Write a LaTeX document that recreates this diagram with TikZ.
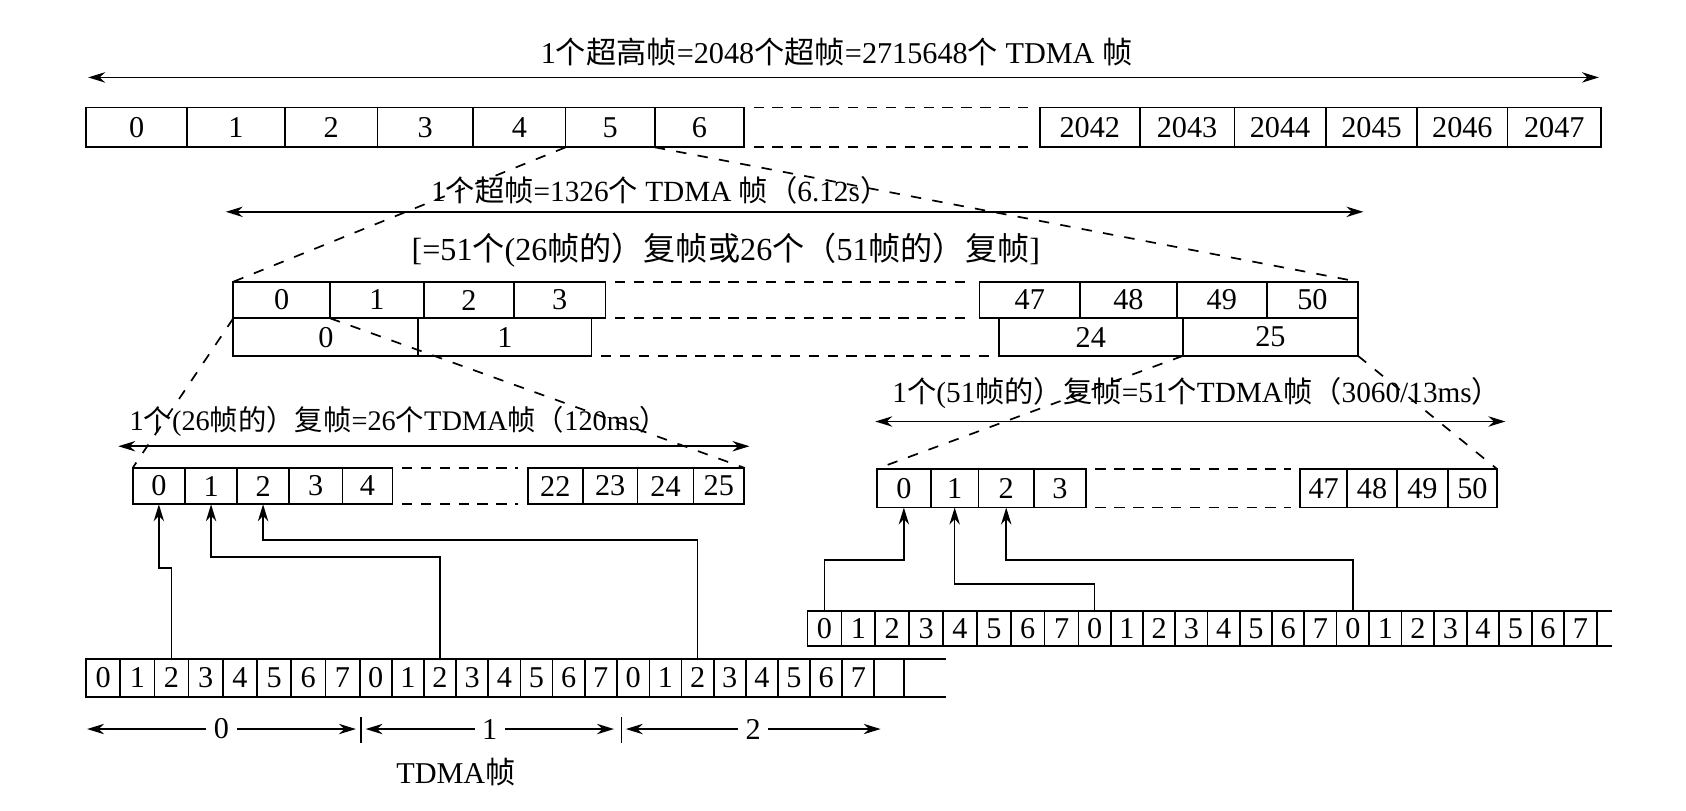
\documentclass[tikz,border=0pt]{standalone}
\usepackage{fontspec}
\setmainfont{Liberation Serif}
\newfontfamily\zhfont{Noto Sans CJK SC}
\newcommand{\zh}[1]{{\zhfont #1}}
\usetikzlibrary{arrows.meta}

\begin{document}
\begin{tikzpicture}[>={Stealth[length=9pt,width=5.5pt]}, x=0.02cm, y=-0.02cm, line width=0.9pt, font=\fontsize{16}{19}\selectfont]
	\tikzstyle{cell} = [draw, anchor=west, inner sep=0pt, outer sep=0pt]
	\tikzstyle{gap} = [dash pattern=on 5.5pt off 4.5pt, shorten <=5pt, shorten >=5pt]
	\tikzstyle{fan} = [dash pattern=on 5.5pt off 6pt]
	\tikzstyle{span} = [<->]
	\tikzstyle{link} = [->, line width=0.8pt]

	\useasboundingbox (0,0) rectangle (1568,754);

	% hyperframe
	\node (t1) at (778,48) {1\zh{个超高帧}=2048\zh{个超帧}=2715648\zh{个} TDMA \zh{帧}};
	\coordinate (a1l) at (82,72);
	\coordinate (a1r) at (1487,72);
	\draw[span] (a1l) -- (a1r);
	\foreach \n/\a/\b in {0/80/174, 1/174/265, 2/265/351, 3/351/440, 4/440/526, 5/526/609, 6/609/692, 2042/967/1060, 2043/1060/1148, 2044/1148/1233, 2045/1233/1318, 2046/1318/1402, 2047/1402/1489}
		\node[cell, minimum width=(\b-\a)*0.02cm, minimum height=37*0.02cm] (sf\n) at (\a,118.5) {\n};
	\draw[gap] (sf6.north east) -- (sf2042.north west);
	\draw[gap] (sf6.south east) -- (sf2042.south west);

	% superframe
	\node[font=\fontsize{15.5}{19}\selectfont] (t2) at (614,177) {1\zh{个超帧}=1326\zh{个} TDMA \zh{帧（}6.12s\zh{）}};
	\coordinate (a2l) at (210,197);
	\coordinate (a2r) at (1268,197);
	\draw[span] (a2l) -- (a2r);
	\node[font=\fontsize{17}{20}\selectfont] (t3) at (675,233) {[=51\zh{个}(26\zh{帧的）复帧或}26\zh{个（}51\zh{帧的）复帧}]};
	\foreach \n/\a/\b in {0/217/307, 1/307/394, 2/394/478, 3/478/563, 47/911/1004.5, 48/1004.5/1094.5, 49/1094.5/1178, 50/1178/1263}
		\node[cell, minimum width=(\b-\a)*0.02cm, minimum height=34*0.02cm] (ma\n) at (\a,279) {\n};
	\foreach \n/\a/\b in {0/217/389, 1/389/550, 24/929/1100, 25/1100/1263}
		\node[cell, minimum width=(\b-\a)*0.02cm, minimum height=35*0.02cm] (mb\n) at (\a,313.5) {\n};
	\draw[gap] (ma3.north east) -- (ma47.north west);
	\draw[gap] (ma3.south east) -- (ma47.south west);
	\draw[gap] (mb1.south east) -- (mb24.south west);
	\draw[fan] (sf5.south west) -- (ma0.north west);
	\draw[fan] (sf6.south west) -- (ma50.north east);

	% 26-frame multiframe
	\node[font=\fontsize{15}{18}\selectfont] (t4) at (371,392) {1\zh{个}(26\zh{帧的）复帧}=26\zh{个}TDMA\zh{帧（}120ms\zh{）}};
	\coordinate (a4l) at (110,415);
	\coordinate (a4r) at (697,415);
	\draw[span] (a4l) -- (a4r);
	\foreach \n/\a/\b in {0/123.5/172, 1/172/220.6, 2/220.6/268.7, 3/268.7/318.5, 4/318.5/365, 22/490.8/542, 23/542/593, 24/593/645, 25/645/692}
		\node[cell, minimum width=(\b-\a)*0.02cm, minimum height=34*0.02cm] (ta\n) at (\a,452) {\n};
	\draw[gap] (ta4.north east) -- (ta22.north west);
	\draw[gap] (ta4.south east) -- (ta22.south west);
	\draw[fan] (ma0.south west) -- (ta0.north west);
	\draw[fan] (ma0.south east) -- (ta25.north east);

	% 51-frame multiframe
	\node[font=\fontsize{15.5}{18}\selectfont] (t5) at (1113,366) {1\zh{个}(51\zh{帧的）复帧}=51\zh{个}TDMA\zh{帧（}3060/13ms\zh{）}};
	\coordinate (a5l) at (814,392);
	\coordinate (a5r) at (1400,392);
	\draw[span] (a5l) -- (a5r);
	\foreach \n/\a/\b in {0/815.5/865.7, 1/865.7/910, 2/910/961.6, 3/961.6/1010, 47/1209/1253, 48/1253/1299, 49/1299/1346.6, 50/1346.6/1392}
		\node[cell, minimum width=(\b-\a)*0.02cm, minimum height=36*0.02cm] (tb\n) at (\a,454) {\n};
	\draw[gap] (tb3.north east) -- (tb47.north west);
	\draw[gap] (tb3.south east) -- (tb47.south west);
	\draw[fan] (mb25.south west) -- (tb0.north west);
	\draw[fan] (mb25.south east) -- (tb50.north east);

	% TDMA frames, left
	\foreach \f/\x/\w in {0/80/31.8, 1/334.5/29.9, 2/574/29.9}
		\foreach \s in {0,...,7}
			\node[cell, minimum width=\w*0.02cm, minimum height=35*0.02cm] (ba\f\s) at (\x+\s*\w,630.5) {\s};
	\node[cell, minimum width=28*0.02cm, minimum height=35*0.02cm] (bax) at (813,630.5) {};
	\draw (bax.north east) -- ++(39,0);
	\draw (bax.south east) -- ++(39,0);
	\draw[link] (ba02.north) -- ++(0,-85) -| (ta0.south);
	\draw[link] (ba12.north) -- ++(0,-95) -| (ta1.south);
	\draw[link] (ba22.north) -- ++(0,-111) -| (ta2.south);

	% TDMA frames, right
	\foreach \f/\x/\w in {0/751/31.5, 1/1003/30, 2/1243/30.25}
		\foreach \s in {0,...,7}
			\node[cell, minimum width=\w*0.02cm, minimum height=33*0.02cm] (bb\f\s) at (\x+\s*\w,584.5) {\s};
	\draw (bb27.north east) -- ++(14,0);
	\draw (bb27.south east) -- ++(14,0);
	\draw[link] (bb00.north) -- ++(0,-47) -| (tb0.south);
	\draw[link] (bb10.north) -- ++(0,-25) -| (tb1.south);
	\draw[link] (bb20.north) -- ++(0,-47) -| (tb2.south);

	% frame spans
	\coordinate (k0) at (81,678);
	\coordinate (k1) at (331,678);
	\coordinate (k2) at (340,678);
	\coordinate (k3) at (571,678);
	\coordinate (k4) at (582,678);
	\coordinate (k5) at (819,678);
	\coordinate (m1) at (336,667);
	\coordinate (m2) at (578,667);
	\draw[span] (k0) -- (k1) node[midway, fill=white, inner sep=4pt] (f0) {0};
	\draw[span] (k2) -- (k3) node[midway, fill=white, inner sep=4pt] (f1) {1};
	\draw[span] (k4) -- (k5) node[midway, fill=white, inner sep=4pt] (f2) {2};
	\draw (m1) -- ++(0,24);
	\draw (m2) -- ++(0,24);
	\node (lb) at (424,718) {TDMA\zh{帧}};
\end{tikzpicture}
\end{document}
